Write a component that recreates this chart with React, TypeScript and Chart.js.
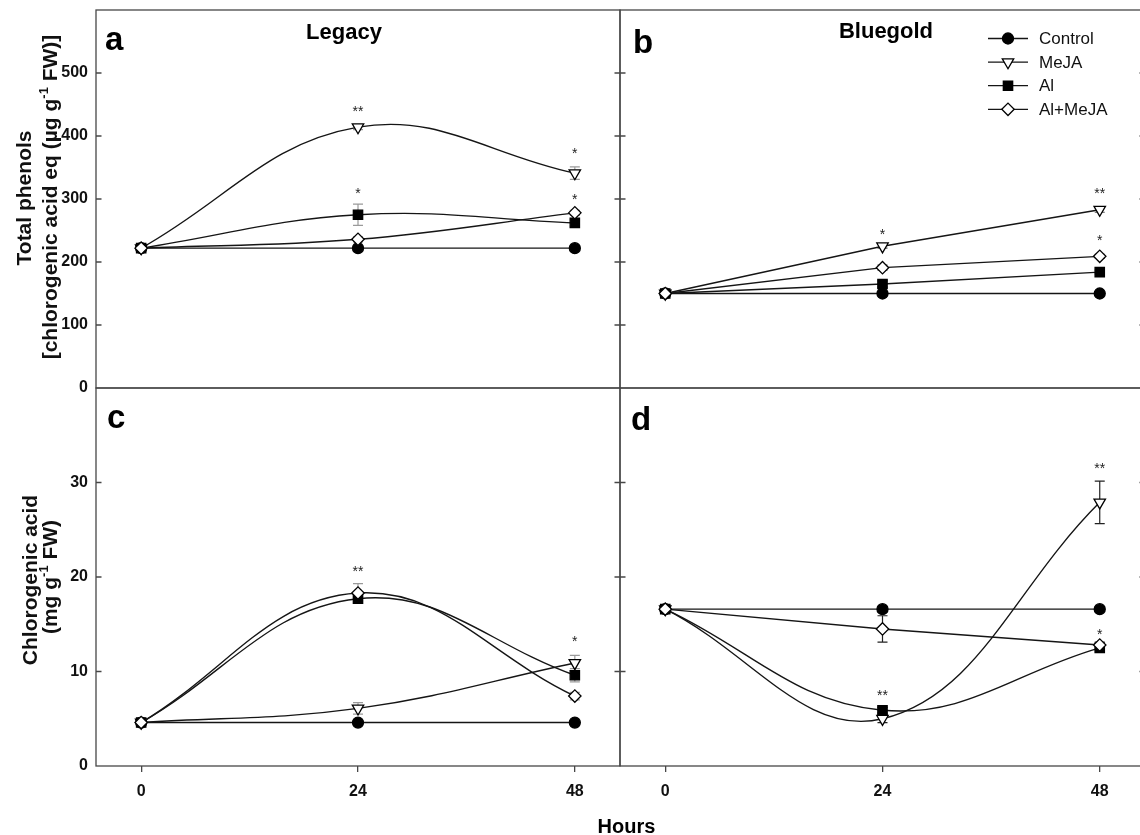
import React, { useEffect, useRef } from 'react';
import { Chart, registerables } from 'chart.js';
import { drawPoint } from 'chart.js/helpers';

Chart.register(...registerables);

const FONT = '"Liberation Sans", Arial, Helvetica, sans-serif';

// ---------------- data ----------------
const hours = [0, 24, 48];
const xTickValues = [0, 24, 48];
const seriesNames = ['Control', 'MeJA', 'Al', 'Al+MeJA'];
const phenolsTicks = [0, 100, 200, 300, 400, 500];
const chlorogenicTicks = [0, 10, 20, 30];

// panel a – Legacy, total phenols (µg g-1 FW)
const aControl = [222, 222, 222];
const aMeJA = [222, 414, 341];
const aAl = [222, 275, 262];
const aAlMeJA = [222, 236, 278];
const aControlErr = [2, 2, 2];
const aMeJAErr = [3, 4, 10];
const aAlErr = [3, 17, 5];
const aAlMeJAErr = [3, 4, 4];
const aStarX = [24, 48, 24, 48];
const aStarY = [445, 377, 314, 304];
const aStarText = ['**', '*', '*', '*'];

// panel b – Bluegold, total phenols
const bControl = [150, 150, 150];
const bMeJA = [150, 225, 283];
const bAl = [150, 165, 184];
const bAlMeJA = [150, 191, 209];
const bControlErr = [1, 2, 2];
const bMeJAErr = [1, 3, 4];
const bAlErr = [1, 5, 3];
const bAlMeJAErr = [1, 4, 3];
const bStarX = [24, 48, 48];
const bStarY = [250, 314, 240];
const bStarText = ['*', '**', '*'];

// panel c – Legacy, chlorogenic acid (mg g-1 FW)
const cControl = [4.6, 4.6, 4.6];
const cMeJA = [4.6, 6.1, 10.9];
const cAl = [4.6, 17.7, 9.6];
const cAlMeJA = [4.6, 18.3, 7.4];
const cControlErr = [0.1, 0.1, 0.1];
const cMeJAErr = [0.1, 0.6, 0.8];
const cAlErr = [0.1, 0.5, 0.7];
const cAlMeJAErr = [0.1, 1.0, 0.4];
const cStarX = [24, 48];
const cStarY = [20.9, 13.5];
const cStarText = ['**', '*'];

// panel d – Bluegold, chlorogenic acid
const dControl = [16.6, 16.6, 16.6];
const dMeJA = [16.6, 5.0, 27.9];
const dAl = [16.6, 5.9, 12.5];
const dAlMeJA = [16.6, 14.5, 12.8];
const dControlErr = [0.2, 0.3, 0.2];
const dMeJAErr = [0.2, 0.4, 2.25];
const dAlErr = [0.2, 0.3, 0.3];
const dAlMeJAErr = [0.2, 1.4, 0.3];
const dStarX = [24, 48, 48];
const dStarY = [7.8, 31.9, 14.3];
const dStarText = ['**', '**', '*'];

// ---------------- styles ----------------
const LINE = '#151515';
const FRAME = '#474747';
const seriesStyle = [
  { pointStyle: 'circle', radius: 5.5, fill: '#000000', rotation: 0 },
  { pointStyle: 'triangle', radius: 6.6, fill: '#ffffff', rotation: 180 },
  { pointStyle: 'rect', radius: 6.6, fill: '#000000', rotation: 0 },
  { pointStyle: 'rectRot', radius: 6.2, fill: '#ffffff', rotation: 0 },
];

type Part = [string, boolean];

function drawVertical(ctx: CanvasRenderingContext2D, parts: Part[], baseX: number, centerY: number, size: number) {
  const big = `bold ${size}px ${FONT}`;
  const small = `bold ${Math.round(size * 0.6)}px ${FONT}`;
  let total = 0;
  const widths = parts.map(([t, sup]) => {
    ctx.font = sup ? small : big;
    const w = ctx.measureText(t).width;
    total += w;
    return w;
  });
  ctx.save();
  ctx.translate(baseX, centerY);
  ctx.rotate(-Math.PI / 2);
  ctx.textBaseline = 'alphabetic';
  ctx.textAlign = 'left';
  ctx.fillStyle = '#111';
  let x = -total / 2;
  parts.forEach(([t, sup], i) => {
    ctx.font = sup ? small : big;
    ctx.fillText(t, x, sup ? -size * 0.45 : 0);
    x += widths[i];
  });
  ctx.restore();
}

interface PanelSpec {
  key: string;
  left: number;
  top: number;
  w: number;
  h: number;
  padding: { top: number; right: number; bottom: number; left: number };
  values: number[][];
  errors: number[][];
  tensions: number[];
  errColor: string;
  yMax: number;
  yTicks: number[];
  showY: boolean;
  showX: boolean;
  starX: number[];
  starY: number[];
  starText: string[];
  letter: string;
  letterPos: [number, number];
  cultivar?: string;
  cultivarPos?: [number, number];
  legend?: boolean;
  yTitle?: Part[][];
  yTitlePos?: [number, number][];
  hours?: boolean;
}

function makePlugin(spec: PanelSpec) {
  return {
    id: 'panelDecor_' + spec.key,
    beforeDatasetsDraw(chart: any) {
      const ctx: CanvasRenderingContext2D = chart.ctx;
      const xs = chart.scales.x;
      const ys = chart.scales.y;
      ctx.save();
      ctx.strokeStyle = spec.errColor;
      ctx.lineWidth = 1.2;
      spec.values.forEach((vals, i) => {
        vals.forEach((v, j) => {
          const e = spec.errors[i][j];
          if (!e) return;
          const x = xs.getPixelForValue(hours[j]);
          const y1 = ys.getPixelForValue(v + e);
          const y2 = ys.getPixelForValue(v - e);
          ctx.beginPath();
          ctx.moveTo(x, y1);
          ctx.lineTo(x, y2);
          ctx.moveTo(x - 5, y1);
          ctx.lineTo(x + 5, y1);
          ctx.moveTo(x - 5, y2);
          ctx.lineTo(x + 5, y2);
          ctx.stroke();
        });
      });
      ctx.restore();
    },
    afterDraw(chart: any) {
      const ctx: CanvasRenderingContext2D = chart.ctx;
      const a = chart.chartArea;
      const ys = chart.scales.y;
      const xs = chart.scales.x;
      const ox = spec.left;
      const oy = spec.top;
      ctx.save();
      // frame
      ctx.strokeStyle = FRAME;
      ctx.lineWidth = 1.3;
      ctx.strokeRect(a.left, a.top, a.right - a.left, a.bottom - a.top);
      // inner y ticks on both sides
      ctx.beginPath();
      spec.yTicks.forEach((t) => {
        if (t === 0) return;
        const y = ys.getPixelForValue(t);
        ctx.moveTo(a.left, y);
        ctx.lineTo(a.left + 5.5, y);
        ctx.moveTo(a.right - 5.5, y);
        ctx.lineTo(a.right, y);
      });
      ctx.stroke();
      // stars
      ctx.fillStyle = '#222';
      ctx.font = `14px ${FONT}`;
      ctx.textAlign = 'center';
      ctx.textBaseline = 'alphabetic';
      spec.starText.forEach((s, i) => {
        const x = xs.getPixelForValue(spec.starX[i]);
        const y = ys.getPixelForValue(spec.starY[i]);
        ctx.fillText(s, x, y + 8);
      });
      // panel letter
      ctx.fillStyle = '#000';
      ctx.font = `bold 33px ${FONT}`;
      ctx.textAlign = 'left';
      ctx.fillText(spec.letter, spec.letterPos[0] - ox, spec.letterPos[1] - oy);
      if (spec.cultivar && spec.cultivarPos) {
        ctx.font = `bold 22px ${FONT}`;
        ctx.textAlign = 'center';
        ctx.fillText(spec.cultivar, spec.cultivarPos[0] - ox, spec.cultivarPos[1] - oy);
      }
      if (spec.legend) {
        const x0 = 988 - ox, x1 = 1028 - ox, xm = 1008 - ox, xt = 1039 - ox;
        seriesNames.forEach((name, i) => {
          const y = 38.5 + i * 23.6 - oy;
          const st = seriesStyle[i];
          ctx.strokeStyle = LINE;
          ctx.lineWidth = 1.3;
          ctx.beginPath();
          ctx.moveTo(x0, y);
          ctx.lineTo(x1, y);
          ctx.stroke();
          ctx.fillStyle = st.fill;
          ctx.strokeStyle = '#000';
          drawPoint(ctx, { pointStyle: st.pointStyle as any, radius: st.radius, rotation: st.rotation, borderWidth: 1.3 } as any, xm, y);
          ctx.fillStyle = '#111';
          ctx.font = `17px ${FONT}`;
          ctx.textAlign = 'left';
          ctx.textBaseline = 'middle';
          ctx.fillText(name, xt, y + 1);
        });
        ctx.textBaseline = 'alphabetic';
      }
      if (spec.yTitle && spec.yTitlePos) {
        spec.yTitle.forEach((parts, i) => {
          const p = spec.yTitlePos![i];
          drawVertical(ctx, parts, p[0] - ox, p[1] - oy, 21);
        });
      }
      if (spec.hours) {
        ctx.fillStyle = '#000';
        ctx.font = `bold 20px ${FONT}`;
        ctx.textAlign = 'center';
        ctx.textBaseline = 'alphabetic';
        ctx.fillText('Hours', 626.5 - ox, 833 - oy);
      }
      ctx.restore();
    },
  };
}

function buildConfig(spec: PanelSpec): any {
  const tickFont = { family: FONT, size: 16, weight: 'bold' as const };
  return {
    type: 'line',
    data: {
      datasets: seriesNames.map((name, i) => ({
        label: name,
        data: hours.map((h, j) => ({ x: h, y: spec.values[i][j] })),
        borderColor: LINE,
        borderWidth: 1.4,
        tension: spec.tensions[i],
        fill: false,
        pointStyle: seriesStyle[i].pointStyle,
        pointRadius: seriesStyle[i].radius,
        pointRotation: seriesStyle[i].rotation,
        pointBackgroundColor: seriesStyle[i].fill,
        pointBorderColor: '#000',
        pointBorderWidth: 1.3,
        order: 3 - i,
        clip: false,
      })),
    },
    options: {
      responsive: false,
      animation: false,
      devicePixelRatio: 1,
      events: [],
      layout: { padding: spec.padding },
      plugins: { legend: { display: false }, tooltip: { enabled: false }, title: { display: false } },
      scales: {
        x: {
          type: 'linear',
          min: -5,
          max: 53,
          display: spec.showX,
          afterBuildTicks: (s: any) => {
            s.ticks = xTickValues.map((v) => ({ value: v }));
          },
          afterFit: (s: any) => {
            if (spec.showX) s.height = 69;
          },
          grid: { drawOnChartArea: false, drawTicks: true, tickLength: 6, color: FRAME, lineWidth: 1.3 },
          border: { display: false },
          ticks: { font: tickFont, color: '#111', padding: 10, autoSkip: false, maxRotation: 0, callback: (v: any) => String(v) },
        },
        y: {
          type: 'linear',
          min: 0,
          max: spec.yMax,
          display: spec.showY,
          afterBuildTicks: (s: any) => {
            s.ticks = spec.yTicks.map((v) => ({ value: v }));
          },
          afterFit: (s: any) => {
            if (spec.showY) s.width = 96;
          },
          grid: { display: false, drawTicks: false },
          border: { display: false },
          ticks: { font: tickFont, color: '#111', padding: 8, autoSkip: false, callback: (v: any) => String(v) },
        },
      },
    },
    plugins: [makePlugin(spec)],
  };
}

const specs: PanelSpec[] = [
  {
    key: 'a', left: 0, top: -10, w: 640, h: 420,
    padding: { top: 20, right: 20, bottom: 22, left: 0 },
    values: [aControl, aMeJA, aAl, aAlMeJA],
    errors: [aControlErr, aMeJAErr, aAlErr, aAlMeJAErr],
    tensions: [0, 0.4, 0.4, 0.4], errColor: '#9a9a9a',
    yMax: 600, yTicks: phenolsTicks, showY: true, showX: false,
    starX: aStarX, starY: aStarY, starText: aStarText,
    letter: 'a', letterPos: [105, 50],
    cultivar: 'Legacy', cultivarPos: [344, 39],
    yTitle: [
      [['Total phenols', false]],
      [['[chlorogenic acid eq (µg g', false], ['-1', true], [' FW)]', false]],
    ],
    yTitlePos: [[31, 198], [57, 197]],
  },
  {
    key: 'b', left: 600, top: -10, w: 560, h: 420,
    padding: { top: 20, right: 15, bottom: 22, left: 20 },
    values: [bControl, bMeJA, bAl, bAlMeJA],
    errors: [bControlErr, bMeJAErr, bAlErr, bAlMeJAErr],
    tensions: [0, 0, 0, 0], errColor: '#555',
    yMax: 600, yTicks: phenolsTicks, showY: false, showX: false,
    starX: bStarX, starY: bStarY, starText: bStarText,
    letter: 'b', letterPos: [633, 53],
    cultivar: 'Bluegold', cultivarPos: [886, 38],
    legend: true,
  },
  {
    key: 'c', left: 0, top: 366, w: 700, h: 469,
    padding: { top: 22, right: 80, bottom: 0, left: 0 },
    values: [cControl, cMeJA, cAl, cAlMeJA],
    errors: [cControlErr, cMeJAErr, cAlErr, cAlMeJAErr],
    tensions: [0, 0.4, 0.4, 0.4], errColor: '#9a9a9a',
    yMax: 40, yTicks: chlorogenicTicks, showY: true, showX: true,
    starX: cStarX, starY: cStarY, starText: cStarText,
    letter: 'c', letterPos: [107, 428],
    yTitle: [
      [['Chlorogenic acid', false]],
      [['(mg g', false], ['-1', true], [' FW)', false]],
    ],
    yTitlePos: [[37, 580], [57, 577]],
    hours: true,
  },
  {
    key: 'd', left: 600, top: 366, w: 560, h: 469,
    padding: { top: 22, right: 15, bottom: 0, left: 20 },
    values: [dControl, dMeJA, dAl, dAlMeJA],
    errors: [dControlErr, dMeJAErr, dAlErr, dAlMeJAErr],
    tensions: [0, 0.4, 0.4, 0], errColor: '#222',
    yMax: 40, yTicks: chlorogenicTicks, showY: false, showX: true,
    starX: dStarX, starY: dStarY, starText: dStarText,
    letter: 'd', letterPos: [631, 430],
  },
];

function PanelChart({ spec }: { spec: PanelSpec }) {
  const ref = useRef<HTMLCanvasElement>(null);
  useEffect(() => {
    if (!ref.current) return;
    const chart = new Chart(ref.current, buildConfig(spec));
    return () => chart.destroy();
  }, [spec]);
  return (
    <canvas
      ref={ref}
      width={spec.w}
      height={spec.h}
      style={{ position: 'absolute', left: spec.left, top: spec.top, width: spec.w, height: spec.h }}
    />
  );
}

export default function App() {
  return (
    <div style={{ position: 'fixed', left: 0, top: 0, width: 1140, height: 835, overflow: 'hidden', background: '#fff' }}>
      {specs.map((s) => (
        <PanelChart key={s.key} spec={s} />
      ))}
    </div>
  );
}
